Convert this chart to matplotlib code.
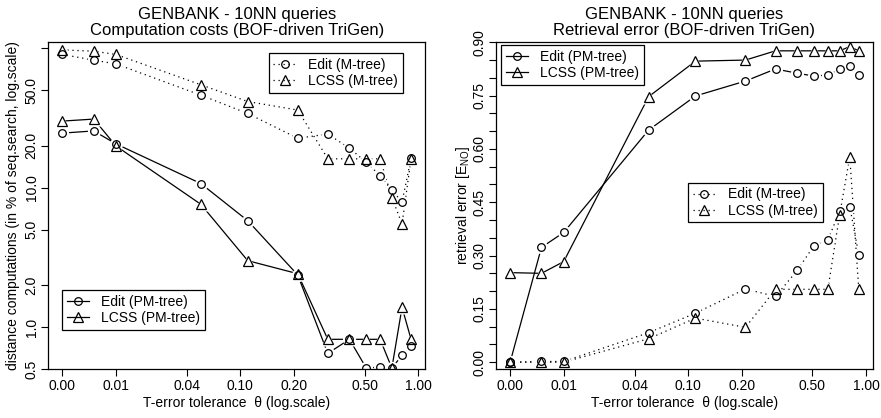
import numpy as np
import matplotlib.pyplot as plt
from matplotlib.lines import Line2D

plt.rcParams['font.family'] = ['Liberation Sans', 'DejaVu Sans']
plt.rcParams['mathtext.default'] = 'regular'

# T-error tolerance values (x axis is log(theta + 0.01))
theta = [0, 0.005, 0.01, 0.05, 0.1, 0.2, 0.3, 0.4, 0.5, 0.6, 0.7, 0.8, 0.9]
x_tick_pos = [0.01, 0.02, 0.05, 0.1, 0.2, 0.5, 1.0]
x_tick_labels = ['0.00', '0.01', '0.04', '0.10', '0.20', '0.50', '1.00']

# left: computation costs (% of seq. search)
cost_edit_mtree = [90, 82, 77, 46, 34, 22.6, 24.2, 19.2, 15.2, 12.2, 9.6, 7.9, 16.2]
cost_lcss_mtree = [97, 95, 90, 54.6, 41.4, 36, 16.1, 16.1, 16.1, 16.1, 8.5, 5.5, 16.1]
cost_edit_pmtree = [24.6, 25.5, 20.6, 10.7, 5.8, 2.37, 0.65, 0.82, 0.51, 0.52, 0.51, 0.63, 0.74]
cost_lcss_pmtree = [30, 31, 19.9, 7.6, 3.0, 2.42, 0.82, 0.82, 0.82, 0.82, 0.51, 1.39, 0.82]
cost_ticks = [0.5, 1, 2, 5, 10, 20, 50, 100]
cost_tick_labels = ['0.5', '1.0', '2.0', '5.0', '10.0', '20.0', '50.0', '']

# right: retrieval error
err_edit_pmtree = [0.0, 0.323, 0.365, 0.653, 0.749, 0.791, 0.825, 0.813, 0.805, 0.808, 0.824, 0.834, 0.808]
err_lcss_pmtree = [0.252, 0.25, 0.283, 0.747, 0.847, 0.85, 0.876, 0.876, 0.876, 0.876, 0.876, 0.888, 0.876]
err_edit_mtree = [0.0, 0.002, 0.002, 0.083, 0.138, 0.206, 0.185, 0.258, 0.328, 0.344, 0.424, 0.438, 0.302]
err_lcss_mtree = [0.0, 0.0, 0.0, 0.066, 0.124, 0.098, 0.205, 0.205, 0.205, 0.205, 0.414, 0.578, 0.205]
err_ticks = np.arange(0, 0.91, 0.05)
err_tick_labels = ['0.00', '0.15', '0.30', '0.45', '0.60', '0.75', '0.90']

x = np.array(theta) + 0.01
DOT = (0, (1, 3))
LW = 0.9
MS = {'o': 5.5, '^': 6.5}


def draw_series(ax, series):
  # R type="b": lines stop short of the points -> white masks under open markers
  for y, mk, ls in series:
    ax.plot(x, y, color='k', lw=LW, linestyle=ls)
  for y, mk, ls in series:
    ax.plot(x, y, linestyle='none', marker=mk, ms=MS[mk] + 4, mfc='white', mec='none')
  for y, mk, ls in series:
    ax.plot(x, y, linestyle='none', marker=mk, ms=MS[mk], mfc='none', mec='k', mew=LW)


def handle(mk, ls):
  return Line2D([], [], color='k', lw=LW, linestyle=ls, marker=mk, ms=MS[mk], mfc='none', mew=LW)


def add_legend(ax, labels, handles, loc, anchor):
  leg = ax.legend(handles, labels, loc=loc, bbox_to_anchor=anchor, fontsize=10,
                  fancybox=False, framealpha=1, edgecolor='k', borderaxespad=0,
                  borderpad=0.35, labelspacing=0.15, handlelength=1.6, handletextpad=0.9)
  leg.get_frame().set_linewidth(0.9)
  return leg


def style_axes(ax):
  ax.set_xscale('log')
  ax.set_xlim(0.00833, 1.09)
  ax.set_xticks(x_tick_pos)
  ax.set_xticklabels(x_tick_labels)
  ax.minorticks_off()
  ax.tick_params(direction='out', length=5, width=0.8, labelsize=10, pad=2, colors='k')
  for s in ax.spines.values():
    s.set_linewidth(0.9)
  ax.set_xlabel('T-error tolerance  \u03b8 (log.scale)', fontsize=10, labelpad=2)


fig = plt.figure(figsize=(8.81, 4.18), dpi=100)
ax1 = fig.add_axes([0.0548, 0.1165, 0.4276, 0.7823])
ax2 = fig.add_axes([0.563, 0.1165, 0.4276, 0.7823])

# left panel
draw_series(ax1, [(cost_edit_mtree, 'o', DOT), (cost_lcss_mtree, '^', DOT),
                  (cost_edit_pmtree, 'o', '-'), (cost_lcss_pmtree, '^', '-')])
style_axes(ax1)
ax1.set_yscale('log')
ax1.set_ylim(0.5, 110)
ax1.set_yticks(cost_ticks)
ax1.set_yticklabels(cost_tick_labels)
ax1.minorticks_off()
plt.setp(ax1.get_yticklabels(), rotation=90, va='center')
ax1.set_ylabel('distance computations (in % of seq.search, log.scale)', fontsize=10, labelpad=3)
ax1.set_title('GENBANK - 10NN queries\nComputation costs (BOF-driven TriGen)',
              fontsize=12, linespacing=1.1, pad=5)
l1 = add_legend(ax1, ['Edit (M-tree)', 'LCSS (M-tree)'], [handle('o', DOT), handle('^', DOT)],
                'upper right', (0.941, 0.968))
ax1.add_artist(l1)
add_legend(ax1, ['Edit (PM-tree)', 'LCSS (PM-tree)'], [handle('o', '-'), handle('^', '-')],
           'lower left', (0.0356, 0.12))

# right panel
draw_series(ax2, [(err_edit_mtree, 'o', DOT), (err_lcss_mtree, '^', DOT),
                  (err_edit_pmtree, 'o', '-'), (err_lcss_pmtree, '^', '-')])
style_axes(ax2)
ax2.set_ylim(-0.02, 0.9)
ax2.set_yticks(err_ticks)
ax2.set_yticklabels([err_tick_labels[i // 3] if i % 3 == 0 else '' for i in range(len(err_ticks))])
plt.setp(ax2.get_yticklabels(), rotation=90, va='center')
ax2.set_ylabel('retrieval error [E$_{NO}$]', fontsize=10, labelpad=0)
ax2.set_title('GENBANK - 10NN queries\nRetrieval error (BOF-driven TriGen)',
              fontsize=12, linespacing=1.1, pad=5)
l2 = add_legend(ax2, ['Edit (PM-tree)', 'LCSS (PM-tree)'], [handle('o', '-'), handle('^', '-')],
                'upper left', (0.013, 0.992))
ax2.add_artist(l2)
add_legend(ax2, ['Edit (M-tree)', 'LCSS (M-tree)'], [handle('o', DOT), handle('^', DOT)],
           'upper left', (0.5105, 0.571))

fig.savefig('out.png', dpi=100)
